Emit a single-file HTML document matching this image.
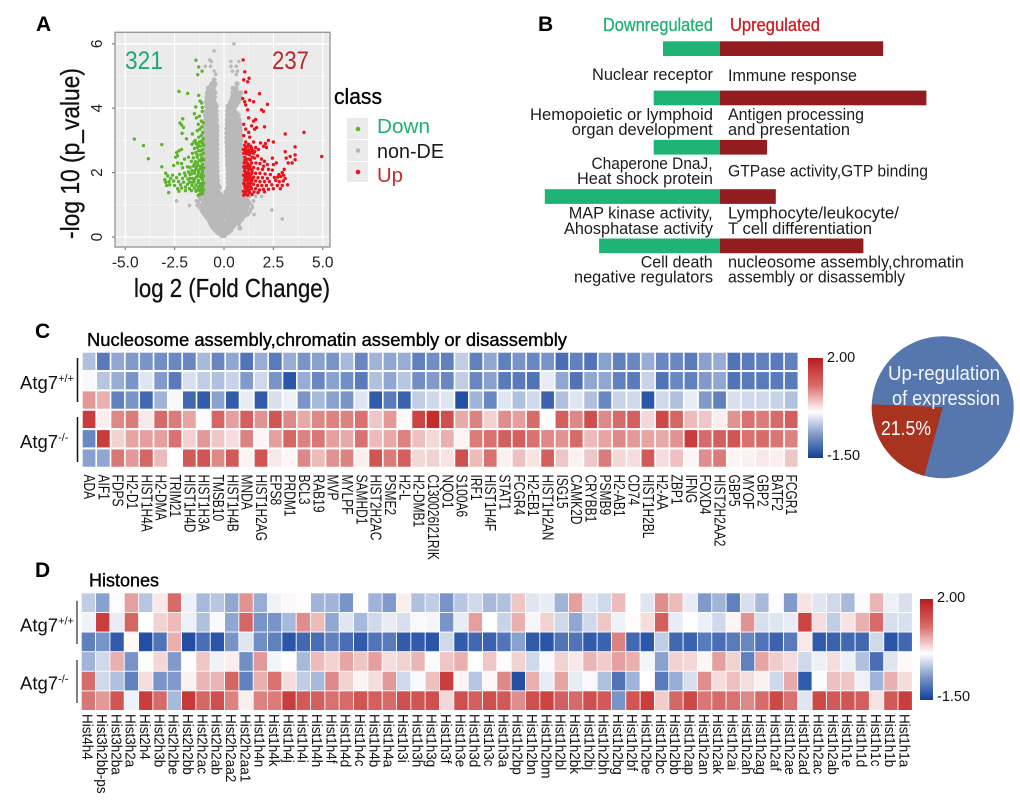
<!DOCTYPE html>
<html lang="en">
<head>
<meta charset="utf-8">
<title>Atg7 expression figure</title>
<style>
html,body{margin:0;padding:0;background:#fff;width:1020px;height:800px;overflow:hidden}
svg{display:block}
text{font-family:"Liberation Sans",sans-serif;fill:#111}
.panel-letter{font-size:21px;font-weight:bold;fill:#000}
.b-label{font-size:17px;fill:#1c1c1c}
.heat-title{font-size:18px;fill:#000;stroke:#000;stroke-width:.35px}
.row-label{font-size:18.5px;fill:#111}
.row-label tspan{font-size:11px}
.legend-num{font-size:14.5px;fill:#111}
.tick{font-size:15.5px;fill:#222}
.axis-title{font-size:26px;fill:#111;stroke:#111;stroke-width:.3px}
</style>
</head>
<body>
<svg id="fig" xmlns="http://www.w3.org/2000/svg" width="1020" height="800" viewBox="0 0 1020 800">
  <!-- Panel letters -->
  <text class="panel-letter" x="36" y="31">A</text>
  <text class="panel-letter" x="538" y="31">B</text>
  <text class="panel-letter" x="35" y="338">C</text>
  <text class="panel-letter" x="35" y="577">D</text>

  <!-- Panel A -->
  <g id="volcano"></g>
  <text x="125" y="69" font-size="25" style="fill:#1fa873" textLength="38" lengthAdjust="spacingAndGlyphs">321</text>
  <text x="272" y="69" font-size="25" style="fill:#b52a2a" textLength="37" lengthAdjust="spacingAndGlyphs">237</text>
  <text class="axis-title" x="134" y="297" textLength="196" lengthAdjust="spacingAndGlyphs">log 2 (Fold Change)</text>
  <text class="axis-title" transform="translate(79,239) rotate(-90)" textLength="171" lengthAdjust="spacingAndGlyphs">-log 10 (p_value)</text>
  <text x="334" y="104" font-size="22" textLength="48" lengthAdjust="spacingAndGlyphs" style="fill:#000;stroke:#000;stroke-width:.3px">class</text>
  <rect x="347" y="118" width="21" height="21" fill="#ebebeb"/>
  <rect x="347" y="140" width="21" height="21" fill="#ebebeb"/>
  <rect x="347" y="162" width="21" height="20" fill="#ebebeb"/>
  <circle cx="358" cy="129" r="2.3" fill="#5db42a"/>
  <circle cx="358" cy="150.5" r="2.3" fill="#b8b8b8"/>
  <circle cx="358" cy="172" r="2.3" fill="#e8141c"/>
  <text x="377" y="133" font-size="20" style="fill:#1fb070" textLength="53" lengthAdjust="spacingAndGlyphs">Down</text>
  <text x="377" y="158" font-size="20" style="fill:#1a1a1a" textLength="67" lengthAdjust="spacingAndGlyphs">non-DE</text>
  <text x="377" y="182" font-size="20" style="fill:#c52a2a" textLength="26" lengthAdjust="spacingAndGlyphs">Up</text>

  <!-- Panel B -->
  <text x="603" y="31" font-size="18" style="fill:#1fb070;stroke:#1fb070;stroke-width:.3px" textLength="110" lengthAdjust="spacingAndGlyphs">Downregulated</text>
  <text x="730" y="31" font-size="18" style="fill:#d11a1f;stroke:#d11a1f;stroke-width:.3px" textLength="90" lengthAdjust="spacingAndGlyphs">Upregulated</text>
  <g id="bars"></g>
  <g>
    <text class="b-label" x="592" y="80" textLength="121" lengthAdjust="spacingAndGlyphs">Nuclear receptor</text>
    <text class="b-label" x="728" y="81" textLength="129" lengthAdjust="spacingAndGlyphs">Immune response</text>
    <text class="b-label" x="530" y="120" textLength="183" lengthAdjust="spacingAndGlyphs">Hemopoietic or lymphoid</text>
    <text class="b-label" x="571.7" y="135" textLength="141" lengthAdjust="spacingAndGlyphs">organ development</text>
    <text class="b-label" x="728" y="120" textLength="136" lengthAdjust="spacingAndGlyphs">Antigen processing</text>
    <text class="b-label" x="728" y="135" textLength="122" lengthAdjust="spacingAndGlyphs">and presentation</text>
    <text class="b-label" x="591.5" y="169" textLength="121" lengthAdjust="spacingAndGlyphs">Chaperone DnaJ,</text>
    <text class="b-label" x="577" y="184" textLength="136" lengthAdjust="spacingAndGlyphs">Heat shock protein</text>
    <text class="b-label" x="728" y="176.7" textLength="200" lengthAdjust="spacingAndGlyphs">GTPase activity,GTP binding</text>
    <text class="b-label" x="568.7" y="218.5" textLength="144" lengthAdjust="spacingAndGlyphs">MAP kinase activity,</text>
    <text class="b-label" x="564" y="234" textLength="149" lengthAdjust="spacingAndGlyphs">Ahosphatase activity</text>
    <text class="b-label" x="728" y="218.5" textLength="171" lengthAdjust="spacingAndGlyphs">Lymphocyte/leukocyte/</text>
    <text class="b-label" x="728" y="234" textLength="144" lengthAdjust="spacingAndGlyphs">T cell differentiation</text>
    <text class="b-label" x="640.7" y="267.5" textLength="72" lengthAdjust="spacingAndGlyphs">Cell death</text>
    <text class="b-label" x="574" y="282.7" textLength="139" lengthAdjust="spacingAndGlyphs">negative regulators</text>
    <text class="b-label" x="728" y="267.5" textLength="236" lengthAdjust="spacingAndGlyphs">nucleosome assembly,chromatin</text>
    <text class="b-label" x="728" y="282.7" textLength="177" lengthAdjust="spacingAndGlyphs">assembly or disassembly</text>
  </g>

  <!-- Panel C -->
  <text class="heat-title" x="87" y="346" textLength="480" lengthAdjust="spacingAndGlyphs">Nucleosome assembly,chromatin assembly or disassembly</text>
  <text class="row-label" x="20" y="389">Atg7<tspan dy="-7">+/+</tspan></text>
  <text class="row-label" x="20" y="448">Atg7<tspan dy="-7">-/-</tspan></text>
  <line x1="77.5" y1="358" x2="77.5" y2="402" stroke="#111" stroke-width="1.5"/>
  <line x1="77.5" y1="417" x2="77.5" y2="462" stroke="#111" stroke-width="1.5"/>
  <g id="heatC"></g>
  <defs>
    <linearGradient id="cbar" x1="0" y1="0" x2="0" y2="1">
      <stop offset="0" stop-color="#b81c1c"/>
      <stop offset=".27" stop-color="#d96a68"/>
      <stop offset=".54" stop-color="#ffffff"/>
      <stop offset=".77" stop-color="#7f97c9"/>
      <stop offset="1" stop-color="#0f3f9a"/>
    </linearGradient>
  </defs>
  <rect x="808" y="358" width="15" height="100" fill="url(#cbar)"/>
  <text class="legend-num" x="827" y="362">2.00</text>
  <text class="legend-num" x="827" y="460">-1.50</text>

  <!-- Pie -->
  <g id="pie"></g>
  <text x="888" y="380" font-size="20" style="fill:#f4f6fa" textLength="112" lengthAdjust="spacingAndGlyphs">Up-regulation</text>
  <text x="892" y="405" font-size="20" style="fill:#f4f6fa" textLength="108" lengthAdjust="spacingAndGlyphs">of expression</text>
  <text x="881" y="435" font-size="20" style="fill:#fff" textLength="50" lengthAdjust="spacingAndGlyphs">21.5%</text>

  <!-- Panel D -->
  <text class="heat-title" x="89" y="586.7" textLength="70" lengthAdjust="spacingAndGlyphs">Histones</text>
  <text class="row-label" x="20" y="631.7">Atg7<tspan dy="-7">+/+</tspan></text>
  <text class="row-label" x="20" y="689.3">Atg7<tspan dy="-7">-/-</tspan></text>
  <line x1="77" y1="600.7" x2="77" y2="644" stroke="#555" stroke-width="1.5"/>
  <line x1="77" y1="660" x2="77" y2="703" stroke="#555" stroke-width="1.5"/>
  <g id="heatD"></g>
  <rect x="920" y="599" width="13" height="101" fill="url(#cbar)"/>
  <text class="legend-num" x="937" y="602">2.00</text>
  <text class="legend-num" x="937" y="701">-1.50</text>
</svg>

<script>
const xTickValues=[-5,-2.5,0,2.5,5];
const xTickLabels=["-5.0","-2.5","0.0","2.5","5.0"];
const yTickValues=[0,2,4,6];
const yMinorValues=[1,3,5];
const xMinorValues=[-3.75,-1.25,1.25,3.75];

// non-DE rows: first number is -log10 p, the rest are log2 FC readings
const nonDeRows=[
[0.04,-.1,.02],[0.1,-.2,.08],[0.14,-.32,-.12,.1,.22],[0.21,-.42,-.22,0,.2,.34],[0.28,-.55,-.33,-.1,.14,.4,.8],[0.35,-.62,-.44,-.22,.02,.26,.5],
[0.42,-.68,-.45,-.22,.03,.28,.52,.74],[0.49,-.72,-.56,-.34,-.1,.16,.4,.62,.8],
[0.56,-.8,-.58,-.33,-.08,.18,.44,.68,.9,2.95],[0.63,-.88,-.68,-.44,-.2,.06,.3,.56,.8,.98],[0.7,-.98,-.74,-.5,-.26,0,.25,.5,.76,1,1.18,1.52],[0.77,-1.06,-.86,-.62,-.38,-.12,.12,.38,.62,.88,1.1,1.3],
[0.84,-1.12,-.88,-.64,-.4,-.14,.1,.36,.6,.86,1.1,1.34,2.42],[0.91,-1.24,-1,-.76,-.5,-.26,-.02,.24,.48,.74,.98,1.22,1.44],
[0.98,-1.36,-1.12,-.86,-.6,-.36,-.1,.14,.4,.66,.9,1.16,1.42,-1.75],[1.05,-1.3,-1,-.74,-.48,-.24,.02,.28,.54,.78,1.04,1.3],
[1.12,-1.4,-1.3,-1.06,-.82,-.56,-.3,-.06,.2,.46,.7,.96,1.2,1.48,1.5,-2.4],[1.19,-1.2,-.94,-.68,-.44,-.18,.08,.34,.58,.82,1.1],
[1.26,-1.28,-1.02,-.78,-.54,-.3,-.04,.22,.46,.7,.92,1.3,1.6,1.9],[1.33,-1.18,-.9,-.66,-.42,-.18,.12,.34,.58,.8],[1.4,-1.14,-.96,-.74,-.52,-.3,.1,.24,.46,.68,.9],[1.47,-1.04,-.86,-.62,-.4,.2,.36,.56,.8],
[1.54,-1.02,-.8,-.57,-.38,-.24,.2,.35,.58,.8],[1.61,-.9,-.68,-.46,-.3,.26,.48,.7,.88],[1.68,-.98,-.76,-.55,-.38,.2,.37,.6,.84],[1.75,-.88,-.66,-.46,-.32,.26,.48,.7,.9],[1.82,-1.03,-.8,-.58,-.4,.2,.36,.58,.82],[1.89,-.86,-.66,-.48,-.34,.26,.48,.7,.88],
[1.96,-.97,-.75,-.53,-.4,.2,.39,.62,.86],[2.03,-.9,-.68,-.47,-.34,.26,.48,.7,.9],[2.1,-1.02,-.79,-.57,-.42,.2,.35,.57,.8],[2.17,-.88,-.66,-.48,-.35,.24,.46,.68,.88],[2.24,-.98,-.75,-.54,-.4,.18,.33,.58,.84],[2.31,-.9,-.68,-.47,-.36,.22,.46,.7,.88],
[2.38,-1.03,-.8,-.58,-.42,.18,.38,.6,.82],[2.45,-.88,-.66,-.48,-.36,.22,.46,.7,.9],[2.52,-.96,-.74,-.53,-.4,.16,.34,.57,.86],[2.59,-.9,-.68,-.46,-.36,.2,.44,.68,.84],[2.66,-1,-.78,-.56,-.42,.16,.31,.55,.8],[2.73,-.88,-.66,-.46,-.36,.2,.44,.68,.86],
[2.8,-.96,-.75,-.52,-.4,.16,.36,.6,.84],[2.87,-.9,-.68,-.46,-.36,.2,.44,.68,.84],[2.94,-1,-.78,-.55,-.42,.14,.32,.56,.8],[3.01,-.86,-.66,-.46,-.36,.2,.44,.68,.86],[3.08,-.96,-.74,-.52,-.4,.14,.35,.58,.82],[3.15,-.88,-.66,-.46,-.36,.2,.44,.68,.84],
[3.22,-.98,-.77,-.56,-.42,.14,.32,.56,.78],[3.29,-.86,-.64,-.46,-.36,.2,.44,.68,.82],[3.36,-.94,-.72,-.5,-.38,.14,.36,.6,.82],[3.43,-.84,-.62,-.44,-.36,.22,.46,.68,.8],[3.5,-.96,-.75,-.54,-.4,.16,.35,.58,.8],[3.57,-.84,-.62,-.44,.22,.46,.66,.76],
[3.64,-.92,-.72,-.5,-.38,.16,.36,.58,.76],[3.71,-.82,-.62,-.44,.24,.44,.66],[3.78,-.94,-.74,-.54,-.4,.18,.34,.55,.72],[3.85,-.84,-.62,-.44,.24,.44,.62],[3.92,-.9,-.7,-.5,-.4,.18,.36,.52],[3.99,-.8,-.6,-.44,.26,.46],
[4.06,-.88,-.68,-.48,-.38,.2,.38,.58],[4.13,-.78,-.58,-.44,.3,.48,.64],[4.2,-.9,-.7,-.5,.34,.56,.72],[4.27,-.78,-.58,.4,.62,.78],[4.34,-.86,-.66,-.48,.42,.62,.8],[4.41,-.74,-.56,.52,.72],[4.48,-.84,-.64,-.46,.44,.7,.86],[4.55,-.7,-.52,.56],
[4.62,-.8,-.58,.46,.62],[4.69,-.66,-.5],[4.76,-.62,-.46,.66],[4.88,-.5],[5.05,-.42,.62],[5.15,-.5,.42,.68],[5.3,-.95,-.68,.35,.62],[5.45,-.65,.35,.75],
[5.5,-.72],[5.78,-.5],[6,.5]
];

const downPoints=[
[-4.54,3.04],[-4.08,2.84],[-3.83,2.43],[-3.15,2.87],[-3.15,2.18],[-2.28,4.52],[-1.84,4.46],[-1.42,5.49],[-1.28,5.28],[-1.11,5.15],[-1.33,5.04],
[-1.28,4.4],[-1.21,4.22],[-1.13,4.16],[-1.1,4.02],[-1.43,4.04],[-1.5,3.83],[-2.09,3.67],[-2.23,3.54],[-2.15,3.48],[-1.1,3.9],[-1.25,3.75],[-1.4,3.7],[-1.15,3.6],[-1.05,3.55],[-1.3,3.5],
[-1.12,3.42],[-1.22,3.35],[-1.08,3.25],[-1.35,3.3],[-1.6,3.2],[-2.05,3.4],[-2.12,3.22],[-1.9,3.05],[-1.15,3.15],[-1.28,3.1],[-1.05,3.05],[-1.45,3],
[-1.52,2.95],[-1.62,2.88],[-1.4,2.9],[-1.25,2.95],[-1.1,2.92],[-1.03,2.85],[-1.2,2.82],[-1.35,2.78],[-1.5,2.75],[-1.08,2.72],[-1.28,2.68],[-1.42,2.62],[-1.6,2.6],[-1.05,2.6],[-1.18,2.55],
[-2.15,2.72],[-2.27,2.68],[-2.4,2.62],[-2.35,2.52],[-2.45,2.48],[-2,2.42],[-1.8,2.48],[-1.55,2.46],[-1.35,2.48],[-1.12,2.45],[-1.03,2.4],[-1.25,2.38],[-1.45,2.34],[-1.65,2.35],
[-2.15,2.28],[-2.35,2.3],[-2.55,2.22],[-2.1,2.15],[-1.85,2.18],[-1.55,2.2],[-1.3,2.22],[-1.1,2.25],[-1.03,2.15],[-1.2,2.12],[-1.42,2.1],[-1.62,2.06],[-1.8,2.02],[-2,1.98],
[-2.95,1.98],[-2.85,1.9],[-2.6,1.92],[-2.25,1.95],[-1.95,1.9],[-1.72,1.94],[-1.5,1.98],[-1.3,2],[-1.1,2.02],[-1.04,1.9],[-1.22,1.88],[-1.4,1.86],[-1.6,1.82],[-1.82,1.8],[-2.1,1.82],[-2.4,1.84],[-2.7,1.82],[-3,1.78],
[-2.95,1.7],[-2.78,1.72],[-2.55,1.74],[-2.3,1.72],[-2.05,1.7],[-1.75,1.7],[-1.52,1.72],[-1.3,1.76],[-1.1,1.78],[-1.03,1.68],[-1.2,1.66],[-1.42,1.62],[-1.62,1.6],[-1.85,1.64],[-2.2,1.62],
[-2.75,1.62],[-2.9,1.6],[-2.5,1.6],[-2.35,1.5],[-2.15,1.52],[-1.95,1.55],[-1.75,1.5],[-1.5,1.52],[-1.3,1.55],[-1.1,1.56],[-1.03,1.46],[-1.22,1.44],[-1.42,1.42],[-2.28,1.42],[-1.95,1.44],[-1.65,1.44],[-1.08,1.35],[-1.22,1.32],[-1.3,1.3],[-2.8,1.38],
[-1.14,2.98],[-1.32,2.86],[-1.18,2.68],[-1.36,2.56],[-1.16,2.36],[-1.34,2.3],[-1.5,2.26],[-1.16,2.18],[-1.28,2.08],[-1.5,2.04],[-1.14,1.96],[-1.32,1.92],[-1.14,1.84],[-1.3,1.7],[-1.5,1.8],[-1.14,1.66],[-1.34,1.46],[-1.16,1.48],[-1.6,1.7],[-1.74,1.82],[-1.66,1.96],[-1.72,2.16],[-1.4,2.18],[-1.08,2.12],[-1.08,1.62],[-1.22,1.58],[-1.12,1.4]
];

const upPoints=[
[.97,5.5],[1.05,5.13],[1.27,4.93],[1,4.88],[1.2,4.82],[1.1,4.5],[1.8,4.45],[.95,4.3],[1.05,4.2],[1.3,4.25],[1.5,4.2],[2.2,4.12],[1.1,4.1],[1.9,3.95],[2,3.9],[1.2,3.95],
[1.25,3.7],[1.6,3.65],[1.5,3.6],[1,3.5],[1.4,3.45],[1.65,3.4],[2.05,3.42],[1.1,3.35],[1.25,3.25],[1.55,3.35],[3.1,3.2],[4.05,3.25],[1,3.15],[1.3,3.1],
[2.25,3],[2.5,2.95],[2.1,2.9],[1.1,2.95],[1.5,2.95],[1.85,2.92],[2,2.82],[2.15,2.78],[1.05,2.85],[1.2,2.8],[1.35,2.82],[1.6,2.78],[1.75,2.72],[.98,2.72],[1.12,2.7],[1.28,2.7],[1.45,2.68],
[3.6,2.8],[3.1,2.65],[3.6,2.55],[3.35,2.5],[3.15,2.45],[3.6,2.4],[4.95,2.5],[3.45,2.3],[3.25,2.3],[2.45,2.45],[2.65,2.3],[2.5,2.25],
[1,2.6],[1.15,2.58],[1.3,2.55],[1.5,2.6],[1.7,2.52],[1.05,2.48],[1.25,2.42],[1.55,2.45],[1.9,2.42],[2.05,2.35],[1.02,2.3],[1.2,2.28],[1.4,2.3],[1.62,2.3],[1.82,2.28],[2,2.2],[2.2,2.25],
[1,2.18],[1.14,2.15],[1.32,2.14],[1.5,2.16],[1.72,2.12],[1.95,2.1],[2.25,2.1],[2.45,2.08],[3.05,2.1],[2.95,2],[1.05,2.05],[1.22,2.02],[1.42,2],[1.6,1.98],[1.82,1.98],[2.08,1.96],[2.35,1.94],
[2.78,1.94],[3.02,1.92],[1,1.92],[1.15,1.9],[1.32,1.88],[1.5,1.86],[1.72,1.84],[1.95,1.84],[2.2,1.82],[2.55,1.85],[2.72,1.86],[2.88,1.88],[3.1,1.82],[1.04,1.78],[1.22,1.76],[1.4,1.74],[1.6,1.74],
[1.82,1.72],[2.05,1.72],[2.3,1.72],[2.62,1.76],[2.8,1.72],[3,1.74],[3.22,1.62],[1,1.66],[1.12,1.62],[1.3,1.62],[1.5,1.64],[1.7,1.6],[1.92,1.6],[2.15,1.6],[2.42,1.62],[2.7,1.6],[2.95,1.6],
[1.06,1.52],[1.22,1.5],[1.4,1.5],[1.6,1.5],[1.8,1.46],[2,1.48],[2.25,1.48],[2.5,1.5],[2.85,1.5],[.98,1.42],[1.12,1.4],[1.3,1.38],[1.52,1.4],[1.72,1.38],[2.05,1.4],[1.05,1.32],[1.2,1.3],[1.42,1.32],[1,1.3],
[1.1,2.76],[1.34,2.62],[1.12,2.34],[1.32,2.22],[1.1,1.98],[1.3,1.8],[1.18,1.56],[1.14,1.84],[1.26,1.96],[1.2,2.2],[1.22,1.68],
[1.06,1.74],[1.18,1.94],[1.06,1.88],[1.24,1.84],[1.38,1.96],[1.36,1.68],[1.06,1.58],[1.26,1.44],[1.14,1.46],[1.36,1.56],[1.44,1.8],[1.08,2.2],[1.26,2.1],[1.06,2.12],[1.42,2.08],[1.16,2.42],[1.34,2.4],[1.06,2.38],[1.44,2.48],[1.2,2.64],[1.06,2.66],[1.4,2.76],[1.24,2.88],[1.56,2.66]
];

const barCategoriesDown=["Nuclear receptor","Hemopoietic or lymphoid organ development","Chaperone DnaJ, Heat shock protein","MAP kinase activity, Ahosphatase activity","Cell death negative regulators"];
const barCategoriesUp=["Immune response","Antigen processing and presentation","GTPase activity,GTP binding","Lymphocyte/leukocyte/T cell differentiation","nucleosome assembly,chromatin assembly or disassembly"];
const barDownValues=[1.9,2.21,2.21,5.84,4.03];
const barUpValues=[5.44,6.88,1.57,1.86,4.78];

const pieUpShare=21.5;

const geneLabelsC=["ADA","AIF1","FDPS","H2-D1","HIST1H4A","H2-DMA","TRIM21","HIST1H4D","HIST1H3A","TMSB10","HIST1H4B","MNDA","HIST1H2AG","EPS8","PRDM1","BCL3","RAB19","MVP","MYLPF","SAMHD1","HIST2H2AC","PSME2","H2-L","H2-DMB1","C130026I21RIK","NQO1","S100A6","IRF1","HIST1H4F","STAT1","FCGR4","H2-EB1","HIST1H2AN","ISG15","CAMK2D","CRYBB1","PSMB9","H2-AB1","CD74","HIST1H2BL","H2-AA","ZBP1","IFNG","FOXD4","HIST2H2AA2","GBP5","MYOF","GBP2","BATF2","FCGR1"];
const heatValuesC1=[-.5,-1.05,-.7,-.8,-.85,-.9,-.95,-.95,-.55,-.95,-.7,-1.1,-.65,-1.05,-.65,-.85,-.75,-.85,-.55,-.95,-.6,-.7,-.65,-1,-.9,-1,-.4,-1,-.7,-1,-.85,-.95,-.85,-1.15,-1,-1.1,-.75,-1,-.95,-.65,-.95,-.95,-1.05,-.75,-.65,-1.1,-1.05,-1,-1.05,-1];
const heatValuesC2=[-.05,-.45,-.65,-.85,-.2,-.8,-1.05,-.25,-.4,-.5,-.35,-.8,-.3,-.85,-1.35,-.65,-.95,-.75,-.9,-1.05,-.5,-.7,-.45,-.9,-.8,-.95,-.4,-.95,-.75,-1.05,-1.05,-1.1,-.15,-.7,-1.1,-.7,-.7,-1,-1.05,-.35,-1.1,-.95,-1,-.8,-.7,-1.1,-1.05,-1.05,-1.05,-1.05];
const heatValuesC3=[.9,.7,-1,-.85,-1.2,-.6,-.05,-1.2,-1.3,-.75,-1.3,-.15,-1.3,-.25,-.12,-.85,-.55,-.75,-.85,-.2,-1.3,-1.05,-1.25,-.4,-.3,-.2,-1.4,-.6,-.95,-.2,-.5,-.3,-1.25,-.5,-.2,-.5,-.95,-.35,-.3,-1.35,-.3,-.5,-.15,-.8,-1,-.25,-.3,-.3,-.35,-.5];
const heatValuesC4=[1.7,.15,1.05,1.15,.2,1.3,1.15,.8,.02,1.35,.85,1.4,.95,1.5,1.05,.75,1.05,1.1,1.1,1.25,.5,.9,.05,1.65,1.85,1.55,.75,1.1,.4,1,.85,1.3,.03,1.4,1.05,1.55,1.05,1.3,1.4,.35,1.6,1.35,.6,.5,.15,.95,1.25,1.15,1.3,1.4];
const heatValuesC5=[-.95,1.7,.4,.8,.85,.85,1.25,.4,.9,.5,.3,1.1,.1,.85,1.35,1.1,1.2,.85,.75,1.25,.6,.75,1.1,.55,.35,.7,.1,1.15,1.25,1.4,1.4,1.25,1.05,.95,1.3,.6,.8,1.05,.9,.8,.75,.95,1.7,1.3,1.4,1.5,1.25,1.3,1.2,1.1];
const heatValuesC6=[-.75,-.7,1.2,.9,1.35,.6,.03,1.45,1.5,1.05,1.45,.1,1.5,.2,.08,1.05,.6,.95,1.1,.15,1.5,1.15,1.4,.35,.4,.25,1.55,.6,1.25,.12,.55,.25,1.4,.5,.12,.5,1.15,.35,.3,1.45,.3,.55,.1,1,1.15,.1,.12,.2,.15,.5];

const histoneLabelsD=["Hist4h4","Hist3h2bb-ps","Hist3h2ba","Hist3h2a","Hist2h4","Hist2h3b","Hist2h2be","Hist2h2bb","Hist2h2ac","Hist2h2ab","Hist2h2aa2","Hist2h2aa1","Hist1h4n","Hist1h4k","Hist1h4j","Hist1h4i","Hist1h4h","Hist1h4f","Hist1h4d","Hist1h4c","Hist1h4b","Hist1h4a","Hist1h3i","Hist1h3h","Hist1h3g","Hist1h3f","Hist1h3e","Hist1h3d","Hist1h3c","Hist1h3a","Hist1h2bp","Hist1h2bn","Hist1h2bm","Hist1h2bl","Hist1h2bk","Hist1h2bj","Hist1h2bh","Hist1h2bg","Hist1h2bf","Hist1h2be","Hist1h2bc","Hist1h2bb","Hist1h2ap","Hist1h2an","Hist1h2ak","Hist1h2ai","Hist1h2ah","Hist1h2ag","Hist1h2af","Hist1h2ae","Hist1h2ad","Hist1h2ac","Hist1h2ab","Hist1h1e","Hist1h1d","Hist1h1c","Hist1h1b","Hist1h1a"];
const heatValuesD1=[-.4,-.75,-.02,.85,-.45,.2,1.3,-.12,-.55,-.45,-.7,.95,-.65,-.1,.05,.03,-.6,-.6,-.85,.03,-.6,-.8,.15,-.5,-.4,-.85,-.45,-.3,-.55,-.5,.5,-.2,-.15,-.6,.85,-.2,-.3,.6,.01,-.2,1,.6,-.15,-.8,-.6,-1,-.25,-.55,-.02,-.8,.25,-.2,-.3,-.55,-.03,.65,-.12,-.25];
const heatValuesD2=[-.1,1.7,-.15,1.35,0,.4,.6,-.12,-.5,-.04,-.7,1.35,-.85,-.85,-.55,1,.6,-.7,-.2,-.55,-.3,-.15,-.25,-.05,-.07,-.85,-.15,.85,0,-.35,.7,-.07,.4,-.3,-.7,-.3,.5,-.1,.03,.3,1.4,-.15,0,-.12,-.3,.1,.95,-.25,-.2,-.15,1.65,.3,-.4,.25,.7,1.3,-.25,-.25];
const heatValuesD3=[-1,-.85,-1.3,.05,-1.4,-1.1,.7,-1.4,-1.15,-1.35,-.85,-.2,-.9,-1,-1.35,-1.2,-1.15,-1,-1.15,-1.3,-1.1,-1.05,-1.3,-1.3,-1.35,-.3,-1.3,-1.2,-1.25,-1.1,-.75,-1.3,-1.35,-1.1,-1.1,-1.3,-1.25,1.1,-1.2,-1.35,-.4,-1.2,-1.25,-1.05,-1.15,-1.05,-.95,-1.1,-1.25,-1.05,.2,-1.3,-1.25,-1.2,-1.2,-.3,-1.35,-1.2];
const heatValuesD4=[-.6,-.3,.7,-.85,.02,.35,-.8,.03,.5,-.1,.15,-.9,.9,-.08,.02,-.55,.6,.4,.8,.5,.85,.3,.4,.65,-.03,.5,.7,.01,.5,.02,.4,-.3,-.05,.4,.2,.65,.45,.85,.7,-.08,-.75,.4,.35,.08,.85,.4,-1,.8,.45,.3,-.3,-.12,.3,-.12,-.5,-1.15,-.2,.05];
const heatValuesD5=[1.3,-.3,-.5,-1,.3,-.85,-.8,.12,.65,.65,1.35,-1,.7,1.25,.3,-.4,-.55,1.05,.4,.1,.3,.9,-.3,-.05,.55,1.7,.1,-.45,.08,1.05,-1.4,.7,-.15,.8,-.15,-.05,-.5,-1.1,-.6,0,-1.05,-.65,-.25,1,.3,.55,.3,.12,-.3,.75,-1.3,-.03,.55,.5,-.1,-.6,.7,.3];
const heatValuesD6=[1.2,.9,1.5,-.1,1.7,1.3,-.55,1.75,1.35,1.55,1.1,.15,1.1,1.15,1.7,1.45,1.4,1.25,1.3,1.5,1.4,1.3,1.55,1.5,1.55,.35,1.55,1.4,1.55,1.45,1,1.55,1.65,1.4,1.3,1.55,1.45,-.85,1.5,1.7,.45,1.35,1.6,1.2,1.3,1.25,1.05,1.3,1.6,1.25,-.2,1.6,1.45,1.5,1.4,.25,1.45,1.7];

const NS="http://www.w3.org/2000/svg";
function make(tag,attrs,parent){
  const el=document.createElementNS(NS,tag);
  for(const k in attrs){el.setAttribute(k,attrs[k]);}
  parent.appendChild(el);
  return el;
}

/* ---------- Panel A ---------- */
const volcano=document.getElementById('volcano');
const xScale=v=>224+19.75*v;
const yScale=v=>237-32.2*v;
const bg=make('rect',{x:115,y:32.3,width:215,height:214.7,fill:'#ebebeb'},volcano);


xMinorValues.forEach(v=>{
  const l=make('line',{x1:xScale(v),x2:xScale(v),y1:32.3,y2:247,stroke:'#f6f6f6','stroke-width':.8},volcano);
  
  
});
yMinorValues.forEach(v=>{
  const l=make('line',{x1:115,x2:330,y1:yScale(v),y2:yScale(v),stroke:'#f6f6f6','stroke-width':.8},volcano);
  
  
});
xTickValues.forEach((v,i)=>{
  const g=make('line',{x1:xScale(v),x2:xScale(v),y1:32.3,y2:247,stroke:'#fff','stroke-width':1.3},volcano);
  
  
  const t=make('line',{x1:xScale(v),x2:xScale(v),y1:247,y2:250,stroke:'#666','stroke-width':1},volcano);
  
  
  const lab=make('text',{x:xScale(v),y:267.3,'text-anchor':'middle','class':'tick'},volcano);
  
  
  lab.textContent=xTickLabels[i];
});
yTickValues.forEach(v=>{
  const g=make('line',{x1:115,x2:330,y1:yScale(v),y2:yScale(v),stroke:'#fff','stroke-width':1.3},volcano);
  
  
  const t=make('line',{x1:112,x2:115,y1:yScale(v),y2:yScale(v),stroke:'#666','stroke-width':1},volcano);
  
  
  const lab=make('text',{'text-anchor':'middle','class':'tick',transform:'translate(102,'+yScale(v)+') rotate(-90)'},volcano);
  
  
  lab.textContent=String(v);
});
nonDeRows.forEach(row=>{
  row.slice(1).forEach(x=>{
    const r=(x<-1.2||x>1.2||row[0]>4.9)?1.8:2.5;
    const c=make('circle',{cx:xScale(x),cy:yScale(row[0]),r:r,fill:'#b9b9b9'},volcano);
    
    
  });
});
downPoints.forEach(p=>{
  const c=make('circle',{cx:xScale(p[0]),cy:yScale(p[1]),r:1.7,fill:'#5db42a'},volcano);
  
  
});
upPoints.forEach(p=>{
  const c=make('circle',{cx:xScale(p[0]),cy:yScale(p[1]),r:1.7,fill:'#e8141c'},volcano);
  
  
});
const frame=make('rect',{x:115,y:32.3,width:215,height:214.7,fill:'none',stroke:'#9a9a9a','stroke-width':1.4},volcano);



/* ---------- Panel B ---------- */
const bars=document.getElementById('bars');
const barZero=720;
const barUnit=30;
const barPos=i=>41.3+i*49.3;
barDownValues.forEach((v,i)=>{
  const r=make('rect',{x:barZero-v*barUnit,y:barPos(i),width:v*barUnit,height:14.7,fill:'#1fb375'},bars);
  
  
  const t=make('title',{},r);
  t.textContent=barCategoriesDown[i];
});
barUpValues.forEach((v,i)=>{
  const r=make('rect',{x:barZero,y:barPos(i),width:v*barUnit,height:14.7,fill:'#931c20'},bars);
  
  
  const t=make('title',{},r);
  t.textContent=barCategoriesUp[i];
});

/* ---------- Heatmaps ---------- */
function heatColor(v){
  const lo=[18,66,158],hi=[192,28,26];
  const target=v>=0?hi:lo;
  const f=Math.min(1,v>=0?v/2:-v/1.5);
  const ch=target.map(c=>Math.round(255+(c-255)*f));
  return 'rgb('+ch.join(',')+')';
}
function drawHeat(root,rows,labels,cfg){
  rows.forEach((vals,r)=>{
    vals.forEach((v,c)=>{
      const cell=make('rect',{x:cfg.x0+c*cfg.dx,y:cfg.y0+r*cfg.dy,width:cfg.w,height:cfg.h,fill:heatColor(v)},root);
      
      
    });
  });
  labels.forEach((name,c)=>{
    const t=make('text',{'font-size':cfg.fs,transform:'translate('+(cfg.x0+c*cfg.dx+cfg.lx)+','+cfg.ly+') rotate(90) scale(1,'+cfg.sy+')'},root);
    
    
    t.textContent=name;
  });
}
drawHeat(document.getElementById('heatC'),[heatValuesC1,heatValuesC2,heatValuesC3,heatValuesC4,heatValuesC5,heatValuesC6],geneLabelsC,
  {x0:82.7,y0:352.7,dx:14.33,dy:19.35,w:12.7,h:17.3,fs:12,lx:1.3,ly:474.5,sy:1.3});
drawHeat(document.getElementById('heatD'),[heatValuesD1,heatValuesD2,heatValuesD3,heatValuesD4,heatValuesD5,heatValuesD6],histoneLabelsD,
  {x0:81.7,y0:593.3,dx:14.33,dy:19.6,w:13.4,h:18.7,fs:13.5,lx:1,ly:714,sy:1.07});

/* ---------- Pie ---------- */
const pie=document.getElementById('pie');
const pieCx=942.7,pieCy=407.3,pieR=71;
const pieStartDeg=195;
const disc=make('circle',{cx:pieCx,cy:pieCy,r:pieR,fill:'#5677ae'},pie);


function piePt(deg){
  const a=deg*Math.PI/180;
  return [pieCx+pieR*Math.sin(a),pieCy-pieR*Math.cos(a)];
}
const pieA=piePt(pieStartDeg);
const pieB=piePt(pieStartDeg+pieUpShare/100*360);
const slice=make('path',{d:'M'+pieCx+' '+pieCy+'L'+pieA[0]+' '+pieA[1]+'A'+pieR+' '+pieR+' 0 0 1 '+pieB[0]+' '+pieB[1]+'Z',fill:'#a8331f'},pie);


</script>
</body>
</html>
